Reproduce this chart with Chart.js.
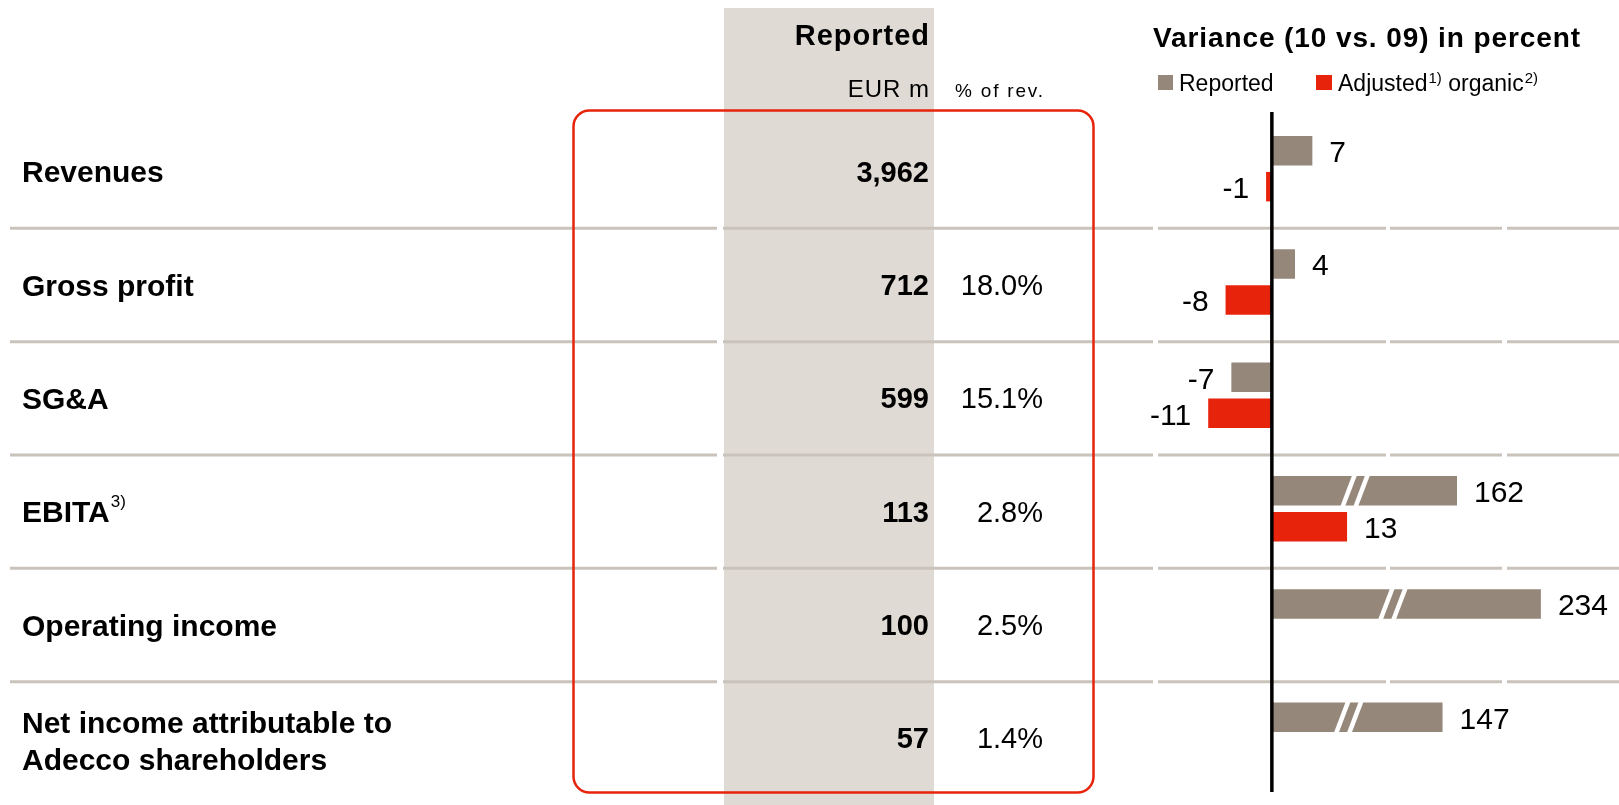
<!DOCTYPE html>
<html>
<head>
<meta charset="utf-8">
<script src="https://cdn.jsdelivr.net/npm/chart.js@4.4.1/dist/chart.umd.min.js"></script>
<style>
  html, body { margin: 0; padding: 0; background: #fff; }
  canvas { display: block; }
</style>
</head>
<body>
<canvas id="chart" width="1619" height="805"></canvas>
<script>
const categories = [['Revenues'], ['Gross profit'], ['SG&A'], ['EBITA'], ['Operating income'], ['Net income attributable to', 'Adecco shareholders']]
const footnotes = [null, null, null, '3)', null, null]
const reportedEurM = [3962, 712, 599, 113, 100, 57]
const pctOfRevenue = [null, 18.0, 15.1, 2.8, 2.5, 1.4]
const reportedVariance = [7, 4, -7, 162, 234, 147]
// big values are drawn as cut bars (with a break mark), this is the drawn length
const reportedBarLength = [7, 4, -7, 32, 46.5, 29.5]
const adjustedVariance = [-1, -8, -11, 13, null, null]

const GREY = '#95887a'
const RED = '#e8230b'
const FONT = '"Liberation Sans", Arial, Helvetica, sans-serif'

function text(ctx, str, x, y, font, align = 'left', spacing = 0) {
  ctx.font = font
  ctx.textAlign = align
  ctx.letterSpacing = spacing + 'px'
  ctx.fillText(str, align === 'right' ? x + spacing : x, y)
  ctx.letterSpacing = '0px'
}

const tablePlugin = {
  id: 'table',
  beforeDatasetsDraw(chart) {
    const { ctx } = chart
    const y = chart.scales.y
    ctx.save()
    // shaded "Reported" column
    ctx.fillStyle = '#dfdad4'
    ctx.fillRect(724, 8, 210, 797)

    // row separators
    ctx.strokeStyle = '#cac3bb'
    ctx.lineWidth = 3
    const segments = [[10, 717], [723, 1153], [1158, 1386], [1390, 1502], [1507, 1619]]
    for (let i = 0; i < categories.length - 1; i++) {
      const yy = (y.getPixelForValue(i) + y.getPixelForValue(i + 1)) / 2 + 3
      segments.forEach(([a, b]) => {
        ctx.beginPath()
        ctx.moveTo(a, yy)
        ctx.lineTo(b, yy)
        ctx.stroke()
      })
    }
    ctx.restore()
  },

  afterDatasetsDraw(chart) {
    const { ctx, chartArea } = chart
    const x = chart.scales.x
    const y = chart.scales.y
    ctx.save()
    ctx.fillStyle = '#000'
    ctx.textBaseline = 'alphabetic'

    // break marks on the cut bars
    const reportedMeta = chart.getDatasetMeta(0)
    reportedMeta.data.forEach((bar, i) => {
      if (reportedVariance[i] === reportedBarLength[i]) return
      const { x: end, base, y: cy, height } = bar.getProps(['x', 'base', 'y', 'height'], true)
      const bx = base + (end - base) * 0.45
      ctx.strokeStyle = '#fff'
      ctx.lineWidth = 4.5
      ;[-6.5, 6.5].forEach(off => {
        ctx.beginPath()
        ctx.moveTo(bx + off - 6, cy + height / 2 + 1)
        ctx.lineTo(bx + off + 6, cy - height / 2 - 1)
        ctx.stroke()
      })
    })

    // zero axis
    const x0 = x.getPixelForValue(0)
    ctx.strokeStyle = '#000'
    ctx.lineWidth = 3.5
    ctx.beginPath()
    ctx.moveTo(x0, chartArea.top)
    ctx.lineTo(x0, chartArea.bottom)
    ctx.stroke()

    // value labels
    const valueFont = '30px ' + FONT
    ctx.textBaseline = 'middle'
    const labelSets = [[reportedMeta, reportedVariance], [chart.getDatasetMeta(1), adjustedVariance]]
    labelSets.forEach(([meta, values]) => {
      meta.data.forEach((bar, i) => {
        if (values[i] == null) return
        const pos = values[i] >= 0
        text(ctx, String(values[i]), bar.x + (pos ? 17 : -17), bar.y + 3, valueFont, pos ? 'left' : 'right')
      })
    })
    ctx.textBaseline = 'alphabetic'

    // left table
    categories.forEach((lines, i) => {
      const c = y.getPixelForValue(i) + 3
      const n = lines.length
      lines.forEach((line, k) => {
        const base = c + 10.5 + (k - (n - 1) / 2) * 37 + (n > 1 ? 3 : 0)
        text(ctx, line, 22, base, 'bold 30px ' + FONT)
        if (footnotes[i] && k === n - 1) {
          ctx.font = 'bold 30px ' + FONT
          const w = ctx.measureText(line).width
          text(ctx, footnotes[i], 22 + w + 1, base - 15, '17px ' + FONT)
        }
      })
      text(ctx, reportedEurM[i].toLocaleString('en-US'), 929, c + 10, 'bold 29px ' + FONT, 'right')
      if (pctOfRevenue[i] != null) {
        text(ctx, pctOfRevenue[i].toFixed(1) + '%', 1043, c + 10, '29px ' + FONT, 'right')
      }
    })

    // headers
    text(ctx, 'Reported', 929, 45, 'bold 29px ' + FONT, 'right', 1)
    text(ctx, 'EUR m', 929, 97, '24px ' + FONT, 'right', 1)
    text(ctx, '% of rev.', 1043, 97, '19px ' + FONT, 'right', 1.8)

    // red frame
    ctx.strokeStyle = RED
    ctx.lineWidth = 2.5
    ctx.beginPath()
    ctx.roundRect(573.5, 110.5, 520, 682, 16)
    ctx.stroke()

    // title + legend
    text(ctx, 'Variance (10 vs. 09) in percent', 1153, 47, 'bold 28px ' + FONT, 'left', 0.9)
    ctx.fillStyle = GREY
    ctx.fillRect(1158, 75, 15, 15)
    ctx.fillStyle = RED
    ctx.fillRect(1316, 75, 16, 15)
    ctx.fillStyle = '#000'
    const legendFont = '23px ' + FONT
    const supFont = '15px ' + FONT
    text(ctx, 'Reported', 1179, 91, legendFont)
    let lx = 1338
    text(ctx, 'Adjusted', lx, 91, legendFont)
    ctx.font = legendFont
    lx += ctx.measureText('Adjusted').width + 1
    text(ctx, '1)', lx, 83, supFont)
    ctx.font = supFont
    lx += ctx.measureText('1)').width
    text(ctx, ' organic', lx, 91, legendFont)
    ctx.font = legendFont
    lx += ctx.measureText(' organic').width + 1
    text(ctx, '2)', lx, 83, supFont)

    ctx.restore()
  }
}

new Chart(document.getElementById('chart').getContext('2d'), {
  type: 'bar',
  data: {
    labels: categories.map(l => l.join(' ')),
    datasets: [
      {
        label: 'Reported',
        data: reportedBarLength,
        backgroundColor: GREY,
        borderWidth: 0,
        categoryPercentage: 0.635,
        barPercentage: 0.82
      },
      {
        label: 'Adjusted organic',
        data: adjustedVariance,
        backgroundColor: RED,
        borderWidth: 0,
        categoryPercentage: 0.635,
        barPercentage: 0.82
      }
    ]
  },
  options: {
    indexAxis: 'y',
    responsive: false,
    animation: false,
    layout: { padding: { left: 1133, top: 112, right: 0, bottom: 13 } },
    plugins: {
      legend: { display: false },
      tooltip: { enabled: false }
    },
    scales: {
      x: { type: 'linear', min: -24, max: 60, display: false },
      y: { display: false }
    }
  },
  plugins: [tablePlugin]
})
</script>
</body>
</html>
